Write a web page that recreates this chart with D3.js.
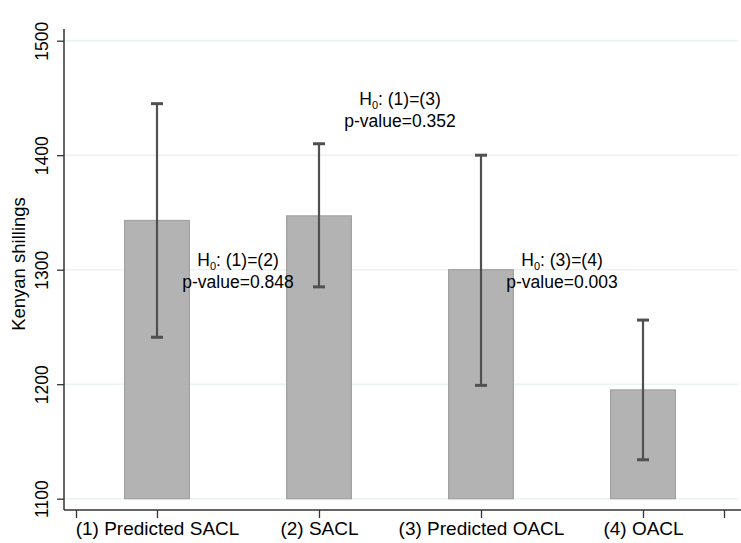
<!DOCTYPE html>
<html>
<head>
	<script src="https://cdn.jsdelivr.net/npm/d3@7"></script>
	<style>
		body { margin: 0; background: white; }
		text { font-family: "Liberation Sans", Arial, Helvetica, sans-serif; fill: #000; }
	</style>
</head>
<body>
	<script>
		var width = 741;
		var height = 543;

		/* data */
		var categories = ["(1) Predicted SACL", "(2) SACL", "(3) Predicted OACL", "(4) OACL"];
		var means = [1343, 1347, 1300, 1195];
		var ciLow = [1241, 1285, 1199, 1134];
		var ciHigh = [1445, 1410, 1400, 1256];
		var yTicks = [1100, 1200, 1300, 1400, 1500];

		/* test annotations: centre position (x in category units, y in shillings) */
		var testLabels = ["(1)=(2)", "(1)=(3)", "(3)=(4)"];
		var testPValues = ["0.848", "0.352", "0.003"];
		var testX = [1.5, 2.5, 3.5];
		var testY = [1300, 1440, 1300];

		var svg = d3.select("body").append("svg")
			.attr("width", width)
			.attr("height", height)
			.style("background-color", "white");

		var x = d3.scaleLinear().domain([0.5, 4.5]).range([76, 724]);
		var y = d3.scaleLinear().domain([1100, 1500]).range([498.7, 40.7]);

		var axisLeft = 64;
		var axisBottom = 510;

		/* grid lines */
		svg.append("g").selectAll("line")
			.data(yTicks)
			.enter().append("line")
			.attr("x1", axisLeft)
			.attr("x2", 738)
			.attr("y1", function(d) { return y(d); })
			.attr("y2", function(d) { return y(d); })
			.style("stroke", "#eaf2f3")
			.style("stroke-width", 1.5);

		/* bars */
		var barHalf = (x(1.2) - x(0.8)) / 2;
		svg.append("g").selectAll("rect")
			.data(means)
			.enter().append("rect")
			.attr("x", function(d, i) { return x(i + 1) - barHalf; })
			.attr("y", function(d) { return y(d); })
			.attr("width", barHalf * 2)
			.attr("height", function(d) { return y(1100) - y(d); })
			.style("fill", "#b3b3b3")
			.style("stroke", "#a1a1a1")
			.style("stroke-width", 1.2);

		/* error bars */
		var err = svg.append("g")
			.style("stroke", "#505050")
			.style("stroke-width", 2.2);
		var capHalf = 6;
		categories.forEach(function(c, i) {
			var cx = x(i + 1);
			err.append("line")
				.attr("x1", cx).attr("x2", cx)
				.attr("y1", y(ciLow[i])).attr("y2", y(ciHigh[i]));
			err.append("line")
				.attr("x1", cx - capHalf).attr("x2", cx + capHalf)
				.attr("y1", y(ciLow[i])).attr("y2", y(ciLow[i]))
				.style("stroke-width", 3);
			err.append("line")
				.attr("x1", cx - capHalf).attr("x2", cx + capHalf)
				.attr("y1", y(ciHigh[i])).attr("y2", y(ciHigh[i]))
				.style("stroke-width", 3);
		});

		/* y axis */
		var yAxis = d3.axisLeft(y)
			.tickValues(yTicks)
			.tickSize(7)
			.tickPadding(0)
			.tickFormat(d3.format("d"));
		var gy = svg.append("g")
			.attr("transform", "translate(" + axisLeft + ",0)")
			.call(yAxis);
		gy.select(".domain").remove();
		gy.selectAll(".tick line").style("stroke", "#333").style("stroke-width", 1.3);
		gy.selectAll(".tick text")
			.attr("x", 0)
			.attr("y", 0)
			.attr("dy", 0)
			.attr("transform", "translate(-16,0) rotate(-90)")
			.style("text-anchor", "middle")
			.style("font-size", "17.5px")
			.style("font-family", "'Liberation Sans', Arial, sans-serif")
			.style("fill", "#000");
		svg.append("line")
			.attr("x1", axisLeft).attr("x2", axisLeft)
			.attr("y1", 29).attr("y2", axisBottom)
			.style("stroke", "#333")
			.style("stroke-width", 1.5);

		/* x axis */
		var xAxis = d3.axisBottom(x)
			.tickValues([0.5, 1, 2, 3, 4, 4.5])
			.tickSize(8)
			.tickPadding(4)
			.tickFormat(function(d) { return Number.isInteger(d) ? categories[d - 1] : ""; });
		var gx = svg.append("g")
			.attr("transform", "translate(0," + axisBottom + ")")
			.call(xAxis);
		gx.select(".domain").remove();
		gx.selectAll(".tick line").style("stroke", "#333").style("stroke-width", 1.3);
		gx.selectAll(".tick text")
			.style("font-size", "19px")
			.style("font-family", "'Liberation Sans', Arial, sans-serif")
			.style("fill", "#000");
		svg.append("line")
			.attr("x1", axisLeft).attr("x2", 741)
			.attr("y1", axisBottom).attr("y2", axisBottom)
			.style("stroke", "#333")
			.style("stroke-width", 1.5);

		/* axis title */
		svg.append("text")
			.attr("transform", "translate(25,264) rotate(-90)")
			.style("text-anchor", "middle")
			.style("font-size", "18.5px")
			.text("Kenyan shillings");

		/* hypothesis test notes */
		testLabels.forEach(function(lab, i) {
			var cx = x(testX[i]);
			var cy = y(testY[i]);
			var t1 = svg.append("text")
				.attr("x", cx)
				.attr("y", cy - 4)
				.style("text-anchor", "middle")
				.style("font-size", "17.5px");
			t1.append("tspan").text("H");
			t1.append("tspan")
				.attr("dy", 4)
				.style("font-size", "11px")
				.text("0");
			t1.append("tspan")
				.attr("dy", -4)
				.text(": " + lab);
			svg.append("text")
				.attr("x", cx)
				.attr("y", cy + 18)
				.style("text-anchor", "middle")
				.style("font-size", "17.5px")
				.text("p-value=" + testPValues[i]);
		});
	</script>
</body>
</html>
